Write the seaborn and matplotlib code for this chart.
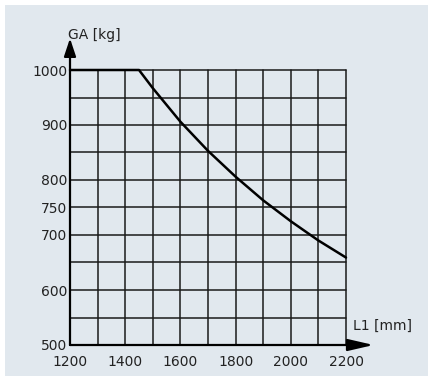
import matplotlib
matplotlib.use('Agg')
import matplotlib.pyplot as plt
import seaborn as sns
import pandas as pd
from matplotlib.patches import Rectangle

# values
l1_mm = [1200, 1450, 1500, 1600, 1700, 1800, 1900, 2000, 2100, 2200]
ga_kg = [1000, 1000, 967, 906, 853, 806, 763, 725, 690, 659]
x_ticks = [1200, 1400, 1600, 1800, 2000, 2200]
y_ticks = [500, 600, 700, 750, 800, 900, 1000]
x_grid = list(range(1200, 2201, 100))
y_grid = list(range(500, 1001, 50))

BG = '#e1e8ee'

sns.set_theme(style='white')
plt.rcParams['font.family'] = ['DejaVu Sans']

fig = plt.figure(figsize=(4.28, 3.76), dpi=100, facecolor='white')
fig.patches.append(Rectangle((5 / 428, 0), 1, 1 - 5 / 376, transform=fig.transFigure,
                             facecolor=BG, edgecolor='none', zorder=-10))
ax = fig.add_axes([70 / 428, 31 / 376, 276 / 428, 275 / 376])
ax.set_facecolor(BG)

df = pd.DataFrame({'L1': l1_mm, 'GA': ga_kg})

for gx in x_grid:
    ax.axvline(gx, color='#1a1a1a', lw=1.1, zorder=1)
for gy in y_grid:
    ax.axhline(gy, color='#1a1a1a', lw=1.1, zorder=1)

sns.lineplot(data=df, x='L1', y='GA', color='black', lw=1.8, ax=ax, zorder=3)
for ln in ax.lines:
    ln.set_clip_on(False)

ax.set_xlim(1200, 2200)
ax.set_ylim(500, 1000)
ax.set_xticks(x_ticks)
ax.set_yticks(y_ticks)
ax.tick_params(axis='both', length=0, labelsize=10, colors='#222222')
ax.tick_params(axis='x', pad=7)
ax.tick_params(axis='y', pad=2)
for lbl in ax.get_yticklabels():
    lbl.set_verticalalignment('center_baseline')
ax.set_xlabel('')
ax.set_ylabel('')
for s in ax.spines.values():
    s.set_visible(False)

# axis arrows
ax.annotate('', xy=(0, 1.115), xytext=(0, 0), xycoords='axes fraction',
            arrowprops=dict(arrowstyle='-|>,head_length=0.9,head_width=0.3',
                            color='black', lw=1.6, shrinkA=0, shrinkB=0), zorder=5)
ax.annotate('', xy=(1.1, 0), xytext=(0, 0), xycoords='axes fraction',
            arrowprops=dict(arrowstyle='-|>,head_length=1.3,head_width=0.3',
                            color='black', lw=1.6, shrinkA=0, shrinkB=0), zorder=5)

fig.text(68 / 428, 1 - 35 / 376, 'GA [kg]', ha='left', va='center', fontsize=10, color='#222222')
fig.text(353 / 428, 1 - 326 / 376, 'L1 [mm]', ha='left', va='center', fontsize=10, color='#222222')

fig.savefig('out.png', dpi=100, facecolor='white')
